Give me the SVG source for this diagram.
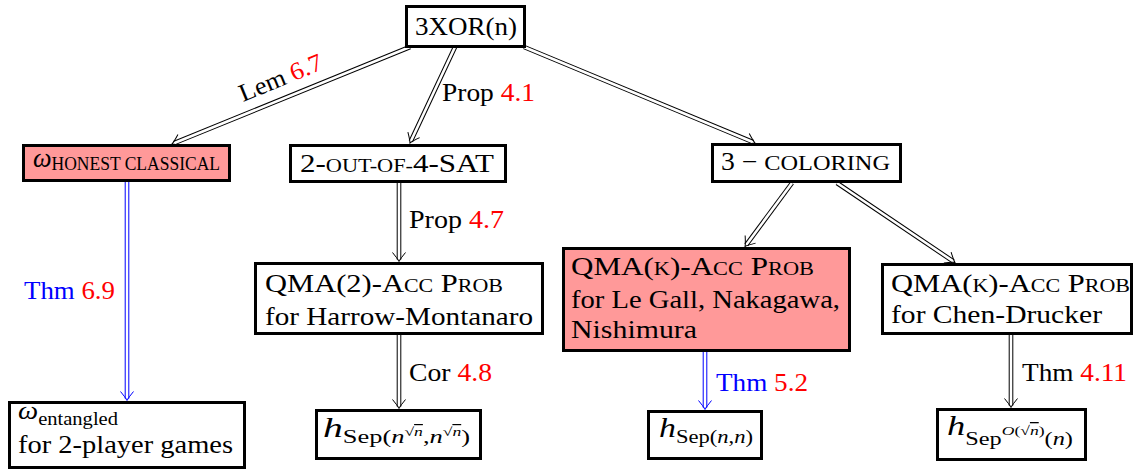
<svg xmlns="http://www.w3.org/2000/svg" width="1135" height="470" viewBox="0 0 1135 470">
<style>
text{font-family:"Liberation Serif","DejaVu Serif",serif;font-size:25px;fill:#000}
.box{fill:#fff;stroke:#000;stroke-width:3}
.pink{fill:#ff9999}
.sc{font-size:18px}
.it{font-style:italic}
.red{fill:#ff0000}
.blue{fill:#0000ff}
.outer{fill:none;stroke:#000;stroke-width:4.6}
.outerb{fill:none;stroke:#0000ff;stroke-width:4.6}
.inner{fill:none;stroke:#fff;stroke-width:2.6;marker-end:url(#tip)}
.innerb{fill:none;stroke:#fff;stroke-width:2.6;marker-end:url(#tipb)}
</style>
<defs>
<marker id="tip" markerUnits="userSpaceOnUse" orient="auto" refX="0" refY="0" markerWidth="20" markerHeight="20" overflow="visible">
<path d="M -7,-6.5 Q -1,-1.5 2,0 Q -1,1.5 -7,6.5" fill="none" stroke="#000" stroke-width="1"/>
</marker>
<marker id="tipb" markerUnits="userSpaceOnUse" orient="auto" refX="0" refY="0" markerWidth="20" markerHeight="20" overflow="visible">
<path d="M -7,-6.5 Q -1,-1.5 2,0 Q -1,1.5 -7,6.5" fill="none" stroke="#0000ff" stroke-width="1"/>
</marker>
</defs>
<rect width="1135" height="470" fill="#fff"/>
<g id="connectors">
<path class="outer" d="M410,47 L173.9,143.2"/><path class="inner" d="M410,47 L173.9,143.2"/>
<path class="outer" d="M455,47 L410.8,141.2"/><path class="inner" d="M455,47 L410.8,141.2"/>
<path class="outer" d="M524,47 L753.2,142.2"/><path class="inner" d="M524,47 L753.2,142.2"/>
<path class="outer" d="M399,183 L399,259.5"/><path class="inner" d="M399,183 L399,259.5"/>
<path class="outer" d="M399,335 L399,406.5"/><path class="inner" d="M399,335 L399,406.5"/>
<path class="outerb" d="M127,182 L127,398.5"/><path class="innerb" d="M127,182 L127,398.5"/>
<path class="outer" d="M792,183 L746.2,244.9"/><path class="inner" d="M792,183 L746.2,244.9"/>
<path class="outer" d="M837,183 L953.3,261.4"/><path class="inner" d="M837,183 L953.3,261.4"/>
<path class="outerb" d="M705,351 L705,407.5"/><path class="innerb" d="M705,351 L705,407.5"/>
<path class="outer" d="M1011,335 L1011,405.5"/><path class="inner" d="M1011,335 L1011,405.5"/>
<text x="243" y="102" transform="rotate(-22.3 243 102)" textLength="88" lengthAdjust="spacingAndGlyphs">Lem <tspan class="red">6.7</tspan></text>
<text x="442" y="101" textLength="93" lengthAdjust="spacingAndGlyphs">Prop <tspan class="red">4.1</tspan></text>
<text x="409" y="228" textLength="95" lengthAdjust="spacingAndGlyphs">Prop <tspan class="red">4.7</tspan></text>
<text x="409" y="381" textLength="83" lengthAdjust="spacingAndGlyphs">Cor <tspan class="red">4.8</tspan></text>
<text x="24" y="299" textLength="91" lengthAdjust="spacingAndGlyphs"><tspan class="blue">Thm </tspan><tspan class="red">6.9</tspan></text>
<text x="716" y="391" textLength="92" lengthAdjust="spacingAndGlyphs"><tspan class="blue">Thm </tspan><tspan class="red">5.2</tspan></text>
<text x="1022" y="381" textLength="105" lengthAdjust="spacingAndGlyphs">Thm <tspan class="red">4.11</tspan></text>
</g>
<g id="n3xor">
<rect class="box" x="406.5" y="6.5" width="118" height="40"/>
<text x="415" y="35" textLength="102" lengthAdjust="spacingAndGlyphs">3XOR(n)</text>
</g>
<g id="honest">
<rect class="box pink" x="23.5" y="145.5" width="206" height="35"/>
<text x="33" y="167" textLength="187" lengthAdjust="spacingAndGlyphs"><tspan class="it" font-size="27">ω</tspan><tspan class="sc" dy="3">HONEST CLASSICAL</tspan></text>
</g>
<g id="sat">
<rect class="box" x="290.5" y="145.5" width="215" height="36"/>
<text x="300" y="172" textLength="194" lengthAdjust="spacingAndGlyphs">2-<tspan class="sc">OUT-OF-</tspan>4-SAT</text>
</g>
<g id="coloring">
<rect class="box" x="712.5" y="144.5" width="188" height="37"/>
<text x="721" y="170" textLength="169" lengthAdjust="spacingAndGlyphs">3 − <tspan font-size="22">COLORING</tspan></text>
</g>
<g id="harrow">
<rect class="box" x="255.5" y="263.5" width="287" height="70"/>
<text x="265" y="292" textLength="238" lengthAdjust="spacingAndGlyphs">QMA(2)-A<tspan class="sc">CC</tspan> P<tspan class="sc">ROB</tspan></text>
<text x="265" y="325" textLength="268" lengthAdjust="spacingAndGlyphs">for Harrow-Montanaro</text>
</g>
<g id="legall">
<rect class="box pink" x="563.5" y="248.5" width="286" height="102"/>
<text x="571" y="275" textLength="243" lengthAdjust="spacingAndGlyphs">QMA(<tspan class="sc">K</tspan>)-A<tspan class="sc">CC</tspan> P<tspan class="sc">ROB</tspan></text>
<text x="571" y="308" textLength="269" lengthAdjust="spacingAndGlyphs">for Le Gall, Nakagawa,</text>
<text x="571" y="338" textLength="126" lengthAdjust="spacingAndGlyphs">Nishimura</text>
</g>
<g id="chen">
<rect class="box" x="882.5" y="264.5" width="249" height="69"/>
<text x="891" y="292" textLength="239" lengthAdjust="spacingAndGlyphs">QMA(<tspan class="sc">K</tspan>)-A<tspan class="sc">CC</tspan> P<tspan class="sc">ROB</tspan></text>
<text x="891" y="323" textLength="211" lengthAdjust="spacingAndGlyphs">for Chen-Drucker</text>
</g>
<g id="entangled">
<rect class="box" x="9.5" y="402.5" width="235" height="65"/>
<text x="18" y="419" textLength="100" lengthAdjust="spacingAndGlyphs"><tspan class="it">ω</tspan><tspan class="sc" dy="6">entangled</tspan></text>
<text x="18" y="453" textLength="215" lengthAdjust="spacingAndGlyphs">for 2-player games</text>
</g>
<g id="hA">
<rect class="box" x="316.5" y="410.5" width="164" height="48"/>
<text x="323" y="437" textLength="147" lengthAdjust="spacingAndGlyphs"><tspan class="it" font-size="27">h</tspan><tspan font-size="18" dy="6">Sep(</tspan><tspan class="it" font-size="18">n</tspan><tspan font-size="12" dy="-7">√<tspan text-decoration="overline" class="it">n</tspan></tspan><tspan font-size="18" dy="7">,</tspan><tspan class="it" font-size="18">n</tspan><tspan font-size="12" dy="-7">√<tspan text-decoration="overline" class="it">n</tspan></tspan><tspan font-size="18" dy="7">)</tspan></text>
</g>
<g id="hB">
<rect class="box" x="648.5" y="411.5" width="113" height="47"/>
<text x="659" y="437" textLength="94" lengthAdjust="spacingAndGlyphs"><tspan class="it" font-size="27">h</tspan><tspan font-size="18" dy="6">Sep(</tspan><tspan class="it" font-size="18">n</tspan><tspan font-size="18">,</tspan><tspan class="it" font-size="18">n</tspan><tspan font-size="18">)</tspan></text>
</g>
<g id="hC">
<rect class="box" x="937.5" y="409.5" width="148" height="50"/>
<text x="947" y="435" textLength="126" lengthAdjust="spacingAndGlyphs"><tspan class="it" font-size="27">h</tspan><tspan font-size="18" dy="10">Sep</tspan><tspan font-size="13" dy="-10"><tspan class="it">O</tspan>(√<tspan text-decoration="overline" class="it">n</tspan>)</tspan><tspan font-size="18" dy="10">(<tspan class="it">n</tspan>)</tspan></text>
</g>
</svg>
